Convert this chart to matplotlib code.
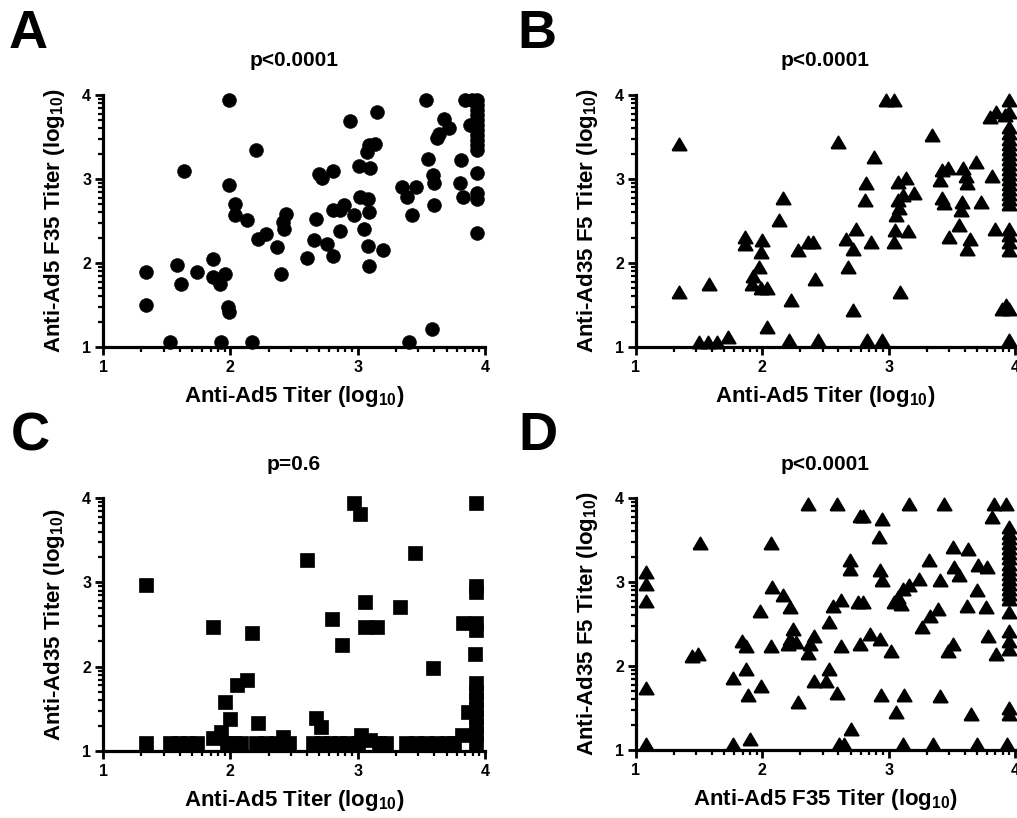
import numpy as np
import matplotlib
matplotlib.use("Agg")
import matplotlib.pyplot as plt
from matplotlib.markers import MarkerStyle

plt.rcParams['font.family'] = ['Liberation Sans', 'DejaVu Sans']
plt.rcParams['font.weight'] = 'bold'
plt.rcParams['mathtext.fontset'] = 'custom'
plt.rcParams['mathtext.rm'] = 'Liberation Sans:bold'
plt.rcParams['mathtext.bf'] = 'Liberation Sans:bold'
plt.rcParams['mathtext.default'] = 'rm'

# ---------------- Panel A: Anti-Ad5 vs Anti-Ad5 F35 ----------------
a_x = [1.34, 1.34, 1.53, 1.58, 1.61, 1.64, 1.74, 1.86, 1.86, 1.92,
       1.96, 1.93, 1.98, 1.99, 1.99, 1.99, 2.04, 2.04, 2.13, 2.20,
       2.17, 2.22, 2.28, 2.37, 2.40, 2.41, 2.44, 2.42, 2.60, 2.67,
       2.66, 2.70, 2.72, 2.76, 2.81, 2.81, 2.81, 2.86, 2.86, 2.89,
       2.94, 2.97, 3.01, 3.02, 3.05, 3.07, 3.08, 3.09, 3.08, 3.09,
       3.10, 3.09, 3.14, 3.15, 3.20, 3.35, 3.39, 3.43, 3.40, 3.46,
       3.54, 3.55, 3.58, 3.59, 3.60, 3.60, 3.62, 3.64, 3.68, 3.72,
       3.80, 3.81, 3.83, 3.84, 3.90, 3.88,
       3.94, 3.94, 3.94, 3.94, 3.94, 3.94, 3.94, 3.94, 3.94, 3.94,
       3.94, 3.94, 3.94, 3.94, 3.94]
a_y = [1.89, 1.50, 1.06, 1.98, 1.75, 3.10, 1.89, 2.05, 1.83, 1.75,
       1.87, 1.06, 1.48, 1.42, 3.94, 2.93, 2.70, 2.57, 2.51, 3.34,
       1.06, 2.28, 2.35, 2.19, 1.87, 2.49, 2.58, 2.40, 2.06, 2.52,
       2.27, 3.06, 3.01, 2.23, 3.09, 2.08, 2.63, 2.38, 2.63, 2.69,
       3.69, 2.57, 3.16, 2.79, 2.41, 3.32, 2.76, 2.61, 2.20, 1.96,
       3.13, 3.40, 3.42, 3.80, 2.16, 2.91, 2.79, 2.57, 1.06, 2.91,
       3.94, 3.24, 1.22, 3.05, 2.95, 2.69, 3.49, 3.54, 3.71, 3.61,
       2.95, 3.23, 2.79, 3.94, 3.94, 3.64,
       3.94, 3.88, 3.82, 3.76, 3.70, 3.64, 3.58, 3.52, 3.46, 3.40,
       3.34, 3.07, 2.83, 2.76, 2.36]

# ---------------- Panel B: Anti-Ad5 vs Anti-Ad35 F5 ----------------
b_x = [1.34, 1.34, 1.58, 1.50, 1.57, 1.64, 1.73, 1.86, 1.86, 2.00,
       1.99, 1.97, 1.93, 1.92, 1.99, 2.04, 2.04, 2.16, 2.13, 2.23,
       2.21, 2.28, 2.36, 2.40, 2.42, 2.44, 2.60, 2.66, 2.68, 2.74,
       2.72, 2.72, 2.82, 2.81, 2.88, 2.86, 2.83, 2.95, 2.98, 3.04,
       3.07, 3.14, 3.07, 3.08, 3.06, 3.11, 3.20, 3.05, 3.04, 3.15,
       3.09, 3.34, 3.41, 3.42, 3.47, 3.42, 3.44, 3.48, 3.56, 3.57,
       3.58, 3.59, 3.61, 3.62, 3.64, 3.62, 3.69, 3.73, 3.80, 3.85,
       3.82, 3.84, 3.92, 3.90, 3.93,
       3.95, 3.95, 3.95, 3.95, 3.95, 3.95, 3.95, 3.95, 3.95, 3.95,
       3.95, 3.95, 3.95, 3.95, 3.95, 3.95, 3.95, 3.95, 3.95, 3.95,
       3.95, 3.95, 3.95, 3.95]
b_y = [3.42, 1.66, 1.75, 1.06, 1.06, 1.06, 1.12, 2.31, 2.23, 2.27,
       2.13, 1.95, 1.85, 1.75, 1.70, 1.70, 1.24, 2.77, 2.51, 1.56,
       1.08, 2.15, 2.25, 2.25, 1.81, 1.08, 3.44, 2.29, 1.95, 2.40,
       2.17, 1.44, 2.95, 2.75, 3.26, 2.25, 1.08, 1.08, 3.94, 3.94,
       2.97, 3.01, 2.75, 2.65, 2.57, 2.81, 2.83, 2.39, 2.25, 2.38,
       1.66, 3.52, 2.99, 3.11, 3.13, 2.77, 2.72, 2.31, 2.45, 2.63,
       2.73, 3.13, 3.03, 2.95, 2.29, 2.17, 3.20, 2.73, 3.74, 3.80,
       3.03, 2.41, 3.76, 1.45, 1.50,
       3.94, 3.80, 3.62, 3.55, 3.48, 3.42, 3.36, 3.30, 3.24, 3.18,
       3.12, 3.06, 3.00, 2.94, 2.88, 2.82, 2.76, 2.70, 2.40, 2.33,
       2.25, 2.15, 1.45, 1.08]

# ---------------- Panel C: Anti-Ad5 vs Anti-Ad35 ----------------
c_x = [1.34, 1.86, 2.17, 2.13, 2.05, 1.96, 2.00, 2.22, 2.60, 2.97,
       3.02, 3.06, 3.06, 3.15, 2.80, 2.88, 3.33, 3.45, 3.59, 3.93,
       3.93, 3.93, 3.83, 3.93, 3.93, 3.92, 3.93, 3.93, 3.93, 3.93,
       3.93, 3.93, 3.93, 3.93, 3.87, 3.82, 2.67, 2.71,
       1.34, 1.53, 1.60, 1.67, 1.74, 1.86, 1.93, 1.97, 2.03, 2.08,
       2.20, 2.28, 2.36, 2.41, 2.46, 2.65, 2.72, 2.78, 2.85, 2.92,
       3.00, 3.03, 3.10, 3.17, 3.22, 3.38, 3.46, 3.54, 3.62, 3.70,
       3.76]
c_y = [2.97, 2.47, 2.40, 1.84, 1.78, 1.58, 1.38, 1.33, 3.27, 3.94,
       3.81, 2.77, 2.47, 2.47, 2.56, 2.26, 2.71, 3.35, 1.99, 3.94,
       2.96, 2.88, 2.52, 2.52, 2.43, 2.15, 1.81, 1.70, 1.60, 1.50,
       1.40, 1.30, 1.20, 1.10, 1.46, 1.19, 1.39, 1.29,
       1.09, 1.09, 1.09, 1.09, 1.09, 1.15, 1.23, 1.09, 1.09, 1.09,
       1.09, 1.09, 1.09, 1.17, 1.09, 1.09, 1.09, 1.09, 1.09, 1.09,
       1.09, 1.19, 1.13, 1.09, 1.09, 1.09, 1.09, 1.09, 1.09, 1.09,
       1.09]

# ---------------- Panel D: Anti-Ad5 F35 vs Anti-Ad35 F5 ----------------
d_x = [1.08, 1.08, 1.08, 1.08, 1.08, 1.44, 1.49, 1.51, 1.77, 1.90,
       1.77, 1.84, 1.87, 1.87, 1.89, 1.99, 1.98, 2.07, 2.08, 2.07,
       2.16, 2.22, 2.24, 2.22, 2.20, 2.27, 2.28, 2.36, 2.36, 2.38,
       2.41, 2.41, 2.50, 2.53, 2.53, 2.59, 2.59, 2.61, 2.65, 2.62,
       2.56, 2.62, 2.70, 2.69, 2.69, 2.76, 2.80, 2.77, 2.80, 2.77,
       2.85, 2.93, 2.95, 2.92, 2.93, 2.95, 2.94, 3.02, 3.06, 3.04,
       3.07, 3.10, 3.11, 3.16, 3.16, 3.12, 3.11, 3.24, 3.26, 3.32,
       3.33, 3.39, 3.35, 3.41, 3.41, 3.44, 3.51, 3.51, 3.47, 3.52,
       3.56, 3.63, 3.62, 3.65, 3.70, 3.70, 3.71, 3.78, 3.77, 3.79,
       3.83, 3.93, 3.82, 3.85, 3.94,
       3.95, 3.95, 3.95, 3.95, 3.95, 3.95, 3.95, 3.95, 3.95, 3.95,
       3.95, 3.95, 3.95, 3.95, 3.95, 3.95, 3.95, 3.95, 3.95, 3.95,
       3.95]
d_y = [3.12, 2.98, 2.77, 1.74, 1.07, 2.12, 2.14, 3.46, 1.07, 1.13,
       1.86, 2.30, 2.24, 1.96, 1.66, 1.76, 2.66, 3.46, 2.94, 2.24,
       2.84, 2.70, 2.44, 2.32, 2.26, 2.28, 1.57, 3.93, 2.16, 2.26,
       2.36, 1.82, 1.82, 1.96, 2.52, 3.93, 1.68, 1.07, 1.07, 2.24,
       2.72, 2.78, 1.25, 3.26, 3.16, 2.76, 2.76, 3.79, 3.79, 2.26,
       2.38, 2.32, 3.75, 3.53, 3.14, 3.02, 1.66, 2.18, 1.45, 2.76,
       2.82, 2.74, 2.92, 2.96, 3.93, 1.66, 1.07, 3.04, 2.46, 3.26,
       2.60, 2.68, 1.07, 1.64, 3.02, 3.93, 3.42, 2.26, 2.18, 3.18,
       3.08, 3.39, 2.72, 1.43, 2.90, 1.07, 3.20, 3.18, 2.70, 2.36,
       3.93, 3.93, 3.77, 2.14, 1.07,
       3.65, 3.58, 3.52, 3.46, 3.40, 3.34, 3.28, 3.22, 3.16, 3.10,
       3.04, 2.98, 2.92, 2.86, 2.80, 2.64, 2.42, 2.30, 2.20, 1.50,
       1.43]

panel_letters = ["A", "B", "C", "D"]
titles = ["p<0.0001", "p<0.0001", "p=0.6", "p<0.0001"]
xlabels = ["Anti-Ad5 Titer (log$_{10}$)", "Anti-Ad5 Titer (log$_{10}$)",
           "Anti-Ad5 Titer (log$_{10}$)", "Anti-Ad5 F35 Titer (log$_{10}$)"]
ylabels = ["Anti-Ad5 F35 Titer (log$_{10}$)", "Anti-Ad35 F5 Titer (log$_{10}$)",
           "Anti-Ad35 Titer (log$_{10}$)", "Anti-Ad35 F5 Titer (log$_{10}$)"]
major_ticks = [1, 2, 3, 4]

# wide, slightly flattened triangle with rounded corners (GraphPad style)
tri = MarkerStyle([(-1, -0.85), (1, -0.85), (0, 0.85), (-1, -0.85)],
                  joinstyle='round')
circ = MarkerStyle('o')
sq = MarkerStyle('s', joinstyle='miter')
marker_specs = [(circ, 10.0, 0.4), (tri, 10.3, 1.3), (sq, 9.5, 0.5), (tri, 10.3, 1.3)]

W, H = 1017, 818
fig = plt.figure(figsize=(W / 100, H / 100), dpi=100)

# axes boxes in pixels: left, right, top, bottom
boxes = [(103, 485, 95, 347), (636, 1015, 95, 347),
         (103, 485, 498, 751), (636, 1015, 498, 750)]
letter_pos = [(9, 48), (517, 48), (11, 450), (518, 450)]
datasets = [(a_x, a_y), (b_x, b_y), (c_x, c_y), (d_x, d_y)]

minor = [d + np.log10(k) for d in (1, 2, 3) for k in range(2, 10)]

for i in range(4):
    l, r, t, b = boxes[i]
    ax = fig.add_axes([l / W, 1 - b / H, (r - l) / W, (b - t) / H])
    xs, ys = datasets[i]
    mk, ms, mew = marker_specs[i]
    ax.plot(xs, ys, linestyle='none', marker=mk, markersize=ms,
            color='black', markeredgewidth=mew, clip_on=False, zorder=3)
    ax.set_xlim(1, 4)
    ax.set_ylim(1, 4)
    for s in ('top', 'right'):
        ax.spines[s].set_visible(False)
    for s in ('left', 'bottom'):
        ax.spines[s].set_linewidth(2.3)
    ax.set_xticks(major_ticks)
    ax.set_yticks(major_ticks)
    ax.set_xticks(minor, minor=True)
    ax.set_yticks(minor, minor=True)
    ax.tick_params(which='major', direction='out', length=5.5, width=2.0,
                   labelsize=11.5, pad=3)
    ax.tick_params(axis='x', which='major', pad=4)
    ax.tick_params(which='minor', direction='out', length=3.5, width=1.6)
    for lab in ax.get_xticklabels() + ax.get_yticklabels():
        lab.set_fontweight('bold')
    ax.set_xlabel(xlabels[i], fontsize=16, fontweight='bold')
    ax.set_ylabel(ylabels[i], fontsize=16, fontweight='bold')
    w = r - l
    h = b - t
    ax.xaxis.set_label_coords(0.5, -(384 - 347) / h)
    ax.yaxis.set_label_coords(-36 / w, 0.5)
    ax.text(0.5, 1 + 34 / h, titles[i], transform=ax.transAxes,
            ha='center', va='center', fontsize=15, fontweight='bold')
    lx, ly = letter_pos[i]
    fig.text(lx / W, 1 - ly / H, panel_letters[i], fontsize=39,
             fontweight='bold', ha='left', va='baseline')

fig.savefig("out.png", dpi=100)
